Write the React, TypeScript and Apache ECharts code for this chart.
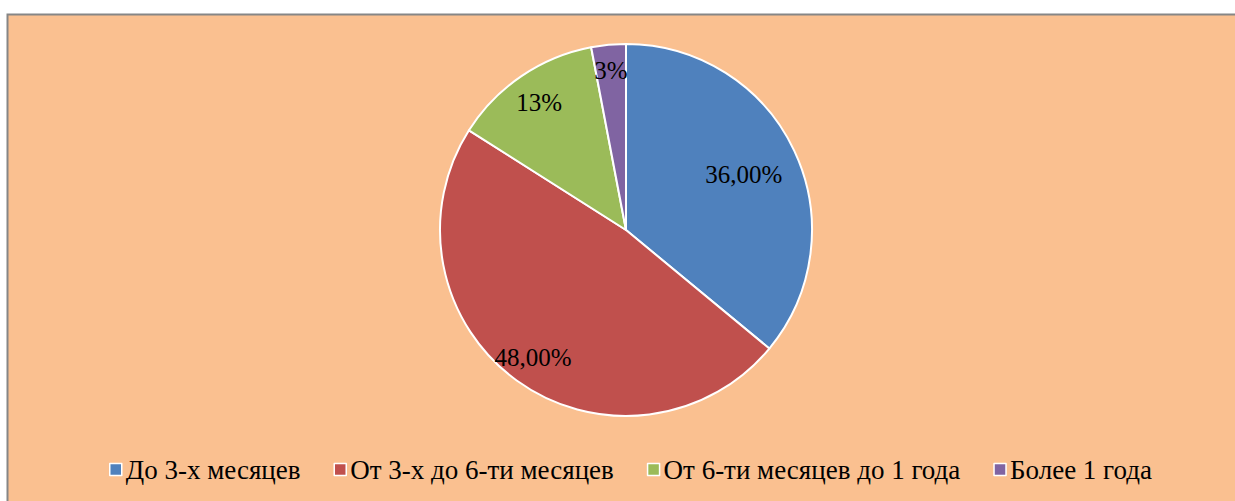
import React, { useEffect, useRef } from "react";
import * as echarts from "echarts";

const categories = ["До 3-х месяцев", "От 3-х до 6-ти месяцев", "От 6-ти месяцев до 1 года", "Более 1 года"];
const values = [36, 48, 13, 3];
const labelTexts = ["36,00%", "48,00%", "13%", "3%"];
const colors = ["#4F81BD", "#C0504D", "#9BBB59", "#8064A2"];
const labelRadiusFactor = [0.7, 0.85, 0.83, 0.86];

const W = 1235;
const H = 501;
const CX = 626;
const CY = 230;
const R = 186;

export default function App() {
  const ref = useRef<HTMLDivElement>(null);
  useEffect(() => {
    if (!ref.current) return;
    const chart = echarts.init(ref.current, null, { renderer: "svg" });
    const total = values.reduce((a, b) => a + b, 0);
    const mids: number[] = [];
    let acc = 0;
    values.forEach((v) => {
      mids.push(((acc + v / 2) / total) * Math.PI * 2);
      acc += v;
    });
    const font = "'Liberation Serif', 'Times New Roman', serif";
    chart.setOption({
      animation: false,
      backgroundColor: "transparent",
      textStyle: { fontFamily: font },
      graphic: [
        {
          type: "rect",
          shape: { x: 7.5, y: 14.5, width: 1240, height: 500 },
          style: { fill: "#FAC090", stroke: "#868686", lineWidth: 2 },
          z: -10,
        },
      ],
      legend: {
        data: categories,
        left: 104,
        top: 451,
        icon: "rect",
        itemWidth: 12,
        itemHeight: 12,
        itemGap: 33,
        textStyle: { fontFamily: font, fontSize: 27, color: "#000", padding: [0, 0, 0, -1] },
        itemStyle: { borderColor: "#fff", borderWidth: 1.5 },
      },
      series: [
        {
          type: "pie",
          center: [CX, CY],
          radius: [0, R],
          startAngle: 90,
          clockwise: true,
          itemStyle: { borderColor: "#fff", borderWidth: 2 },
          label: {
            show: true,
            position: "inside",
            fontFamily: font,
            fontSize: 25,
            color: "#000",
            formatter: (p: any) => labelTexts[p.dataIndex],
          },
          labelLayout: (p: any) => {
            const i = p.dataIndex;
            const a = mids[i];
            const rr = R * labelRadiusFactor[i];
            return {
              x: CX + rr * Math.sin(a),
              y: CY - rr * Math.cos(a),
              align: "center",
              verticalAlign: "middle",
            };
          },
          emphasis: { disabled: true },
          data: categories.map((c, i) => ({
            name: c,
            value: values[i],
            itemStyle: { color: colors[i] },
          })),
        },
      ],
    });
    return () => chart.dispose();
  }, []);
  return (
    <div
      ref={ref}
      style={{ position: "absolute", left: 0, top: 0, width: W, height: H, background: "#fff" }}
    />
  );
}
